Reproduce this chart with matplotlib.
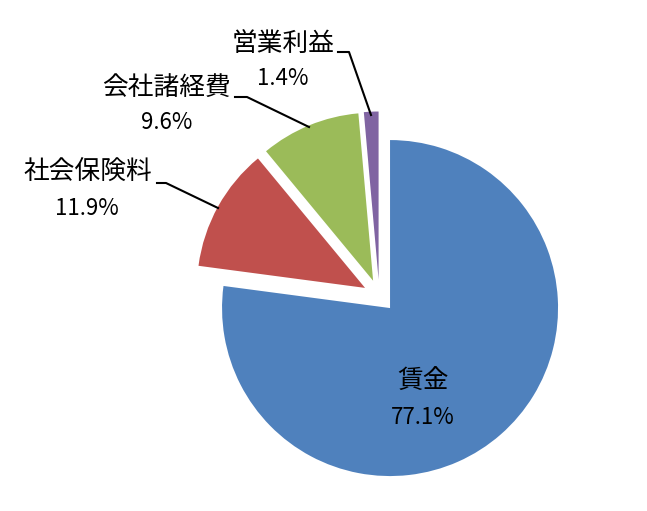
import matplotlib
matplotlib.use("Agg")
import matplotlib.pyplot as plt

plt.rcParams['font.family'] = ['Noto Sans CJK JP', 'DejaVu Sans']

# 内訳 (%)
labels = ["賃金", "社会保険料", "会社諸経費", "営業利益"]
shares = [77.1, 11.9, 9.6, 1.4]
colors = ["#4F81BD", "#C0504D", "#9BBB59", "#8064A2"]

W, H = 647, 511
fig = plt.figure(figsize=(W / 100, H / 100), dpi=100)
ax = fig.add_axes([0, 0, 1, 1])

# 画像座標 (y下向き) -> 軸座標
def py(y):
    return H - y

# explode is an absolute offset in data units (pixels here)
ax.pie(shares, colors=colors, startangle=90, counterclock=False,
       center=(379.3, py(295.8)), radius=168,
       explode=[16.3] * len(shares),
       wedgeprops=dict(linewidth=0))

# pie() sets its own limits, so set them afterwards
ax.set_xlim(0, W)
ax.set_ylim(0, H)
ax.set_aspect('equal')
ax.axis('off')

# ラベル位置: (名前の中心, 割合の中心)
label_pos = [((423, 382), (423, 417)),
             ((88, 173), (87, 208)),
             ((166, 88), (167, 122)),
             ((283, 44), (283, 78))]
leaders = [None,
           [(157, 183), (166, 183), (218, 208)],
           [(235, 97), (247, 97), (309, 127)],
           [(338, 52), (349, 52), (371, 115)]]

for name, val, (p1, p2), ld in zip(labels, shares, label_pos, leaders):
    ax.text(p1[0], py(p1[1]), name, fontsize=18.5, ha='center', va='center')
    ax.text(p2[0], py(p2[1]), f"{val:.1f}%", fontsize=16, ha='center', va='center')
    if ld:
        ax.plot([p[0] for p in ld], [py(p[1]) for p in ld], color='black', lw=1.5)

fig.savefig("out.png", dpi=100)
